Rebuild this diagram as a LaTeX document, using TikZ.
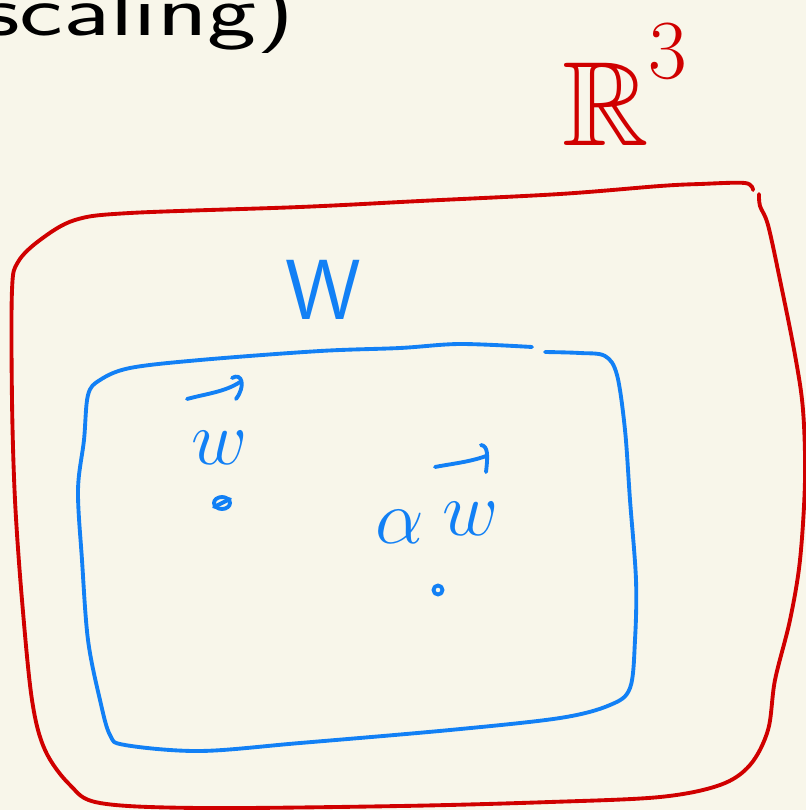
\RequirePackage{fix-cm}
\documentclass[tikz,border=0pt]{standalone}
\usepackage{amssymb}
\usepackage{graphicx}
\definecolor{paper}{RGB}{248,246,234}
\definecolor{inkred}{RGB}{208,0,0}
\definecolor{inkblue}{RGB}{18,128,245}
\begin{document}
\begin{tikzpicture}[x=0.75pt,y=-0.75pt,
  pen/.style={line width=2.9pt, line cap=round, line join=round},
  redpen/.style={pen, draw=inkred},
  bluepen/.style={pen, draw=inkblue},
  big/.style={inner sep=0pt, font=\fontsize{#1}{#1}\selectfont}]
\fill[paper] (0,0) rectangle (806,810);
\clip (0,0) rectangle (806,810);

% heading fragment
\node[anchor=base west, inner sep=0pt, text=black, font=\sffamily\fontsize{54}{54}\selectfont] (head) at (-18,35) {\scalebox{1.45}[1]{scaling)}};

% ambient space R^3
\node[big=90, anchor=base west, text=inkred] (R3) at (562,145) {$\mathbb{R}^{\raisebox{17pt}{$\scriptstyle 3$}}$};
\draw[redpen] plot[smooth, tension=0.55] coordinates {
  (753,190) (745,183) (700,184) (660,186) (560,194) (420,201) (300,207)
  (130,213) (75,220) (40,240) (18,262) (12,290) (12,400) (15,500)
  (22,600) (32,700) (45,750) (70,785) (100,803) (200,808) (400,806)
  (550,802) (660,797) (720,785) (750,765) (768,730) (775,680) (790,620)
  (800,560) (805,480) (803,410) (795,355) (780,280) (768,225) (760,206)
  (759,194)};

% subspace W
\node[big=64, text=inkblue, font=\sffamily\fontsize{64}{64}\selectfont] (W) at (323,290) {W};
\draw[bluepen] plot[smooth, tension=0.55] coordinates {
  (532,347) (460,344) (400,348) (320,351) (200,360) (130,368) (100,380)
  (88,395) (84,440) (78,490) (82,560) (88,640) (100,700) (110,735)
  (125,745) (200,751) (300,743) (450,730) (560,718) (610,705) (630,688)
  (635,640) (636,580) (630,500) (625,430) (617,375) (605,356) (580,353)
  (545,352)};

% vector w
\node[big=58, text=inkblue] (w1) at (220,448) {$w$};
\draw[bluepen] (187,399) .. controls (205,394) and (225,392) .. (240,382);
\draw[bluepen] (232,378) .. controls (242,372) and (246,386) .. (236,399);
\draw[bluepen] (222,503) ellipse [x radius=8, y radius=6];
\draw[bluepen] (214,507) -- (230,499);

% scaled vector alpha w
\node[big=58, text=inkblue] (alpha) at (400,527) {$\alpha$};
\node[big=58, text=inkblue] (w2) at (471,519) {$w$};
\draw[bluepen] (435,467) .. controls (450,464) and (470,462) .. (486,456);
\draw[bluepen] (481,445) .. controls (488,446) and (488,455) .. (486,472);
\draw[bluepen] (438,590) circle [radius=4.5];
\end{tikzpicture}
\end{document}
